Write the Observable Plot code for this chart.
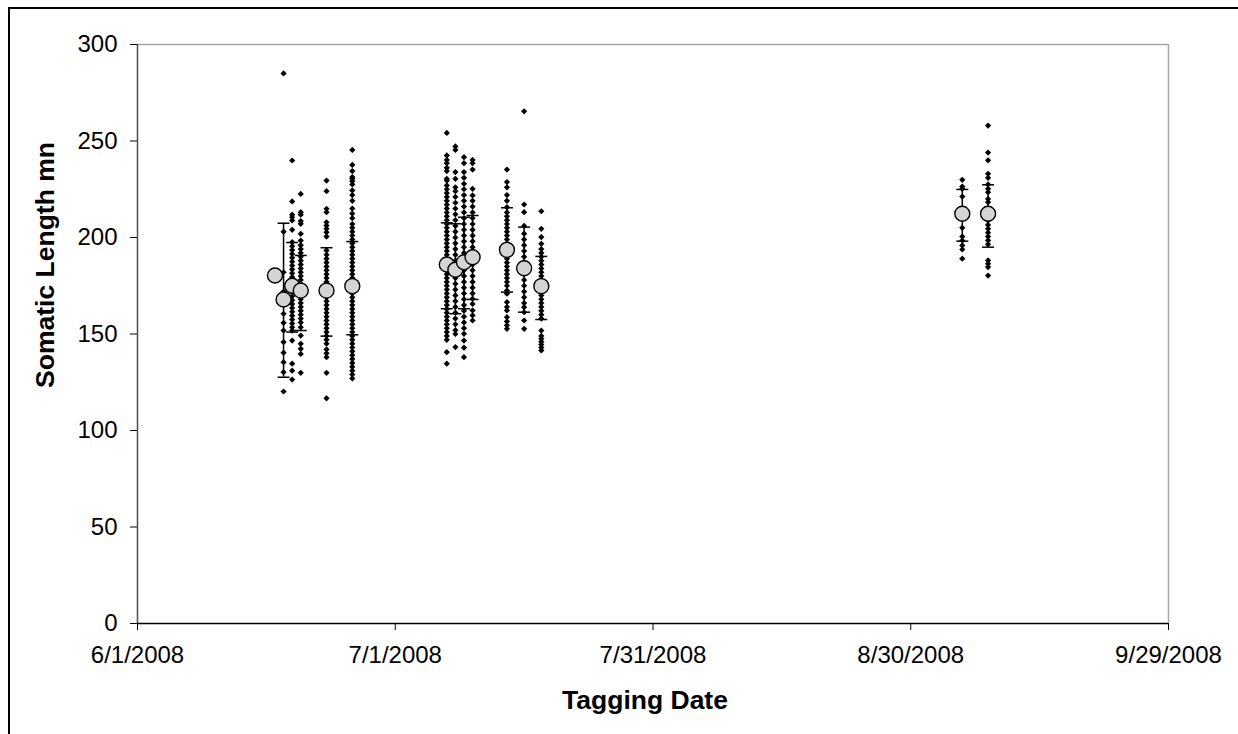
<!DOCTYPE html>
<html>
<head>
<meta charset="utf-8">
<script src="https://cdn.jsdelivr.net/npm/d3@7"></script>
<script src="https://cdn.jsdelivr.net/npm/@observablehq/plot@0.6"></script>
<style>
  html, body { margin: 0; padding: 0; background: #fff; overflow: hidden; }
  #chart { position: relative; width: 1238px; height: 734px; }
  #chart svg { display: block; }
</style>
</head>
<body>
<div id="chart"></div>
<script>
// ---- Data ----
const tagDates = ["2008-06-17","2008-06-18","2008-06-19","2008-06-20","2008-06-23","2008-06-26",
                  "2008-07-07","2008-07-08","2008-07-09","2008-07-10","2008-07-14","2008-07-16","2008-07-18",
                  "2008-09-05","2008-09-08"];
const meanLength = [180.3, 167.9, 175.0, 172.5, 172.5, 174.8, 186.0, 183.3, 187.2, 189.8, 193.6, 184.1, 174.8, 212.3, 212.3];
const sdLower    = [null, 127.6, 151.0, 151.8, 148.9, 149.6, 163.1, 160.5, 163.1, 167.9, 171.7, 161.3, 157.5, 198.1, 195.0];
const sdUpper    = [null, 207.4, 197.4, 190.7, 194.7, 197.9, 207.6, 207.1, 210.5, 211.4, 215.4, 205.4, 190.2, 224.9, 227.3];

const len0617 = [180];
const len0618 = [285, 203, 182, 172, 160.5, 155.8, 151.8, 145.8, 140.3, 135.4, 130.2, 120.2];
const len0619 = [239.9, 218.7, 211.8, 210.5, 208.8, 204, 197.6, 195.5, 193.5, 191.5, 189.5, 187.5, 185.5, 183.5, 181.5, 179.5, 177.5, 175.5, 173.5, 171.5, 169.5, 167.5, 165.5, 163.5, 161.5, 159.5, 157.5, 155.5, 153.5, 151.8, 146.6, 134.6, 131, 126.4];
const len0620 = [222.6, 213.1, 211.8, 208.5, 207.1, 201.9, 198.4, 196, 194, 192, 190, 188, 186, 184, 182, 180, 178, 176, 174, 172, 170, 168, 166, 164, 162, 160, 158, 156, 153.5, 149.2, 144.9, 142.3, 139.7, 129.9];
const len0623 = [229.5, 224, 214.9, 213.1, 207.9, 206.2, 204.5, 202.7, 200.5, 193.3, 191, 189, 187, 185, 183, 181, 179, 177, 175, 173, 171, 169, 167, 165, 163, 161, 159, 157, 155, 153, 151, 149, 147, 145, 142, 140, 138, 129.9, 116.7];
const len0626 = [245.4, 237.6, 234.4, 231.3, 230.4, 229.2, 227.5, 224.4, 222, 219, 215, 212.4, 210, 207, 205, 203, 201, 199, 197, 195, 193, 191, 189, 187, 185, 183, 181, 179, 177, 175, 173, 171, 169, 167, 165, 163, 161, 159, 157, 155, 153, 151, 149, 147, 145, 143, 141, 139, 137, 135, 133, 131, 129, 127];
const len0707 = [254.2, 242.5, 240.2, 238.5, 236.1, 234.4, 230.4, 229.5, 227, 225, 223, 221, 219, 217, 215, 213, 211, 209, 207, 205, 203, 201, 199, 197, 195, 193, 191, 189, 187, 185, 183, 181, 179, 177, 175, 173, 171, 169, 167, 165, 163, 161, 159, 157, 155, 153, 151, 149, 147, 140.6, 134.6];
const len0708 = [247.2, 245.4, 233.9, 230.4, 226, 224, 221, 218, 215, 212, 209, 206, 203, 200, 197, 194, 191, 188, 185, 182, 179, 176, 173, 170, 167, 164, 161, 158, 155, 152, 150, 143.2];
const len0709 = [241.6, 238.5, 233.9, 230.9, 227.8, 225, 222, 219, 216, 213, 210, 207, 204, 201, 198, 195, 192, 189, 186, 183, 180, 177, 174, 171, 168, 165, 162, 159, 156, 153, 150.1, 146.6, 142.9, 138];
const len0710 = [240.2, 238.5, 235.2, 225.2, 221.8, 219, 216, 213, 210, 207, 204, 201, 198, 195, 192, 189, 186, 183, 180, 177, 174, 171, 168.2, 165.6, 162.2, 159.6, 157];
const len0714 = [235.2, 228.7, 226, 222, 219, 215.7, 213, 211, 209, 207, 205, 203, 201, 199, 197, 195, 193, 191, 189, 187, 185, 183, 181, 179, 177, 175, 172.5, 170.9, 166.5, 164, 162.2, 158.7, 156.5, 154.5, 152.7];
const len0716 = [265.4, 217.1, 213.1, 206, 202, 199, 196, 193, 190, 187, 184, 181, 178, 175, 172, 169, 166, 163.9, 161.3, 157, 152.7];
const len0718 = [213.6, 204.5, 200.2, 196.7, 194, 192, 190, 188, 186, 184, 182, 180, 178, 176, 174, 172, 170, 168, 166, 164, 162, 160, 158, 151.8, 149, 147.5, 146, 144.5, 143, 141.5];
const len0905 = [229.9, 226.4, 225.2, 221.2, 215, 210, 205, 200.5, 198.4, 195.9, 193.8, 189];
const len0908 = [258, 244, 240, 233, 230.9, 227.5, 225.2, 223.5, 220, 218.3, 208.8, 206.5, 204.5, 202.5, 200.5, 198.5, 196.5, 188.1, 186.4, 184.7, 180.3];

const lengthsByDate = [len0617, len0618, len0619, len0620, len0623, len0626, len0707, len0708, len0709, len0710, len0714, len0716, len0718, len0905, len0908];

const xTickDates = ["2008-06-01","2008-07-01","2008-07-31","2008-08-30","2008-09-29"];
const yTicks = [0, 50, 100, 150, 200, 250, 300];
const xTitle = "Tagging Date";
const yTitle = "Somatic Length mn";

// ---- Build tables ----
const parse = s => new Date(s + "T00:00:00Z");
const fish = lengthsByDate.flatMap((arr, i) => arr.map(v => ({date: parse(tagDates[i]), length: v})));
const summary = tagDates.map((d, i) => ({date: parse(d), mean: meanLength[i], lo: sdLower[i], hi: sdUpper[i]}));
const bars = summary.filter(d => d.lo != null);
const fmt = d => `${d.getUTCMonth() + 1}/${d.getUTCDate()}/${d.getUTCFullYear()}`;

const capSymbol = {
  draw(ctx, size) {
    const w = Math.sqrt(size / Math.PI);
    ctx.moveTo(-w, 0);
    ctx.lineTo(w, 0);
  }
};

const font = "'Liberation Sans', Arial, Helvetica, sans-serif";

const chart = Plot.plot({
  width: 1238,
  height: 734,
  marginLeft: 137,
  marginRight: 70,
  marginTop: 44,
  marginBottom: 111,
  style: {fontFamily: font, fontSize: "24px", color: "#000", background: "#fff", overflow: "visible"},
  x: {type: "utc", domain: [parse(xTickDates[0]), parse(xTickDates[xTickDates.length - 1])]},
  y: {domain: [0, 300]},
  marks: [
    Plot.ruleY([300], {stroke: "#a6a6a6", strokeWidth: 1.5}),
    Plot.ruleX([parse(xTickDates[xTickDates.length - 1])], {stroke: "#a6a6a6", strokeWidth: 1.5}),
    Plot.axisY({ticks: yTicks, tickSize: 7, tickPadding: 13, fontSize: 24, label: null, stroke: "#000"}),
    Plot.axisX({ticks: xTickDates.map(parse), tickFormat: fmt, tickSize: 7, tickPadding: 15, fontSize: 24, label: null}),
    Plot.ruleX([parse(xTickDates[0])], {stroke: "#4d4d4d", strokeWidth: 1.5}),
    Plot.ruleY([0], {stroke: "#000", strokeWidth: 1.5}),
    Plot.dot(fish, {x: "date", y: "length", symbol: "diamond2", r: 2.8, fill: "#000", stroke: "none"}),
    Plot.ruleX(bars, {x: "date", y1: "lo", y2: "hi", stroke: "#000", strokeWidth: 1.5}),
    Plot.dot(bars, {x: "date", y: "hi", symbol: capSymbol, r: 6, stroke: "#000", strokeWidth: 1.5, fill: "none"}),
    Plot.dot(bars, {x: "date", y: "lo", symbol: capSymbol, r: 6, stroke: "#000", strokeWidth: 1.5, fill: "none"}),
    Plot.dot(summary, {x: "date", y: "mean", r: 7.5, fill: "#d4d4d4", stroke: "#000", strokeWidth: 1.4}),
    Plot.text([yTitle], {frameAnchor: "left", textAnchor: "middle", lineAnchor: "middle", dx: -92, dy: -69, rotate: -90, fontWeight: "bold", fontSize: 26.5, fill: "#000"}),
    Plot.text([xTitle], {frameAnchor: "bottom", textAnchor: "middle", lineAnchor: "middle", dx: -8, dy: 77, fontWeight: "bold", fontSize: 26.5, fill: "#000"})
  ]
});

document.getElementById("chart").appendChild(chart);

// outer chart border (top and left edges are visible in the reference)
d3.select(chart).append("path")
  .attr("d", "M9,734V8H1238")
  .attr("fill", "none")
  .attr("stroke", "#000")
  .attr("stroke-width", 2);
</script>
</body>
</html>
